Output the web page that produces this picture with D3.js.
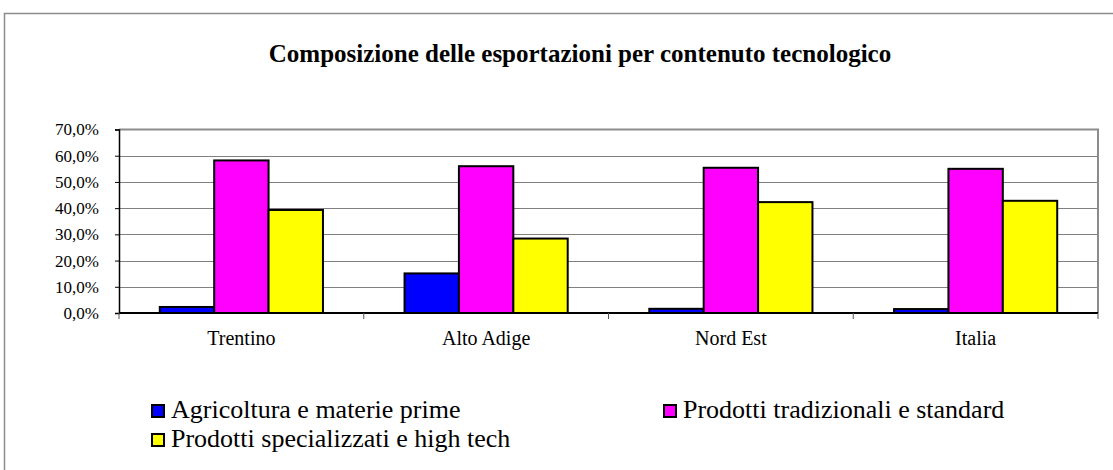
<!DOCTYPE html>
<html>
<head>
<meta charset="utf-8">
<script src="https://cdn.jsdelivr.net/npm/d3@7"></script>
<style>
  body { margin: 0; background: #fff; }
  text { font-family: "Liberation Serif", "Times New Roman", serif; fill: #000; }
</style>
</head>
<body>
<div id="chart"></div>
<script>

    var regions = ["Trentino", "Alto Adige", "Nord Est", "Italia"];
    var seriesNames = ["Agricoltura e materie prime", "Prodotti tradizionali e standard", "Prodotti specializzati e high tech"];
    var agricoltura = [2.3, 15.1, 1.6, 1.5];
    var tradizionali = [58.2, 56.0, 55.4, 55.0];
    var specializzati = [39.3, 28.4, 42.3, 42.8];
    var seriesColors = ["#0000ff", "#ff00ff", "#ffff00"];
    var yTicks = [0, 10, 20, 30, 40, 50, 60, 70];

    var width = 1113, height = 470;

    var svg = d3.select("#chart")
      .append("svg")
      .attr("width", width)
      .attr("height", height);

    // outer frame of the chart object
    svg.append("path")
      .attr("d", "M4.5," + height + "V13.5H" + width)
      .attr("fill", "none")
      .attr("stroke", "#8c8c8c")
      .attr("stroke-width", 1.5);

    svg.append("text")
      .attr("x", 580)
      .attr("y", 62)
      .attr("text-anchor", "middle")
      .attr("font-weight", "bold")
      .attr("font-size", 25)
      .text("Composizione delle esportazioni per contenuto tecnologico");

    //=========================================================================
    // scales
    //=========================================================================
    var plot = { left: 119, right: 1098, top: 129.5, bottom: 313 };

    var x = d3.scaleBand()
      .domain(regions)
      .range([plot.left, plot.right]);

    var xInner = d3.scaleBand()
      .domain(d3.range(seriesNames.length))
      .range([0, x.bandwidth()])
      .paddingOuter(0.75)
      .paddingInner(0);

    var y = d3.scaleLinear()
      .domain([0, 70])
      .range([plot.bottom, plot.top]);

    // gridlines
    svg.append("g")
      .selectAll("line")
      .data(yTicks.slice(1, -1))
      .enter()
      .append("line")
      .attr("x1", plot.left)
      .attr("x2", plot.right)
      .attr("y1", function(d) { return Math.round(y(d)) + 0.5; })
      .attr("y2", function(d) { return Math.round(y(d)) + 0.5; })
      .attr("stroke", "#808080")
      .attr("stroke-width", 1);

    // plot area top / right border
    svg.append("path")
      .attr("d", "M" + plot.left + "," + plot.top + "H" + plot.right + "V" + plot.bottom)
      .attr("fill", "none")
      .attr("stroke", "#8c8c8c")
      .attr("stroke-width", 2);

    //=========================================================================
    // bars
    //=========================================================================
    var series = [agricoltura, tradizionali, specializzati];

    series.forEach(function(values, s) {
      svg.append("g")
        .selectAll("rect")
        .data(values)
        .enter()
        .append("rect")
        .attr("x", function(d, i) { return x(regions[i]) + xInner(s); })
        .attr("width", xInner.bandwidth())
        .attr("y", function(d) { return y(d); })
        .attr("height", function(d) { return y(0) - y(d); })
        .attr("fill", seriesColors[s])
        .attr("stroke", "#000")
        .attr("stroke-width", 2);
    });

    //=========================================================================
    // axes
    //=========================================================================
    var yAxis = svg.append("g")
      .attr("transform", "translate(" + plot.left + ",0)")
      .call(d3.axisLeft(y)
        .tickValues(yTicks)
        .tickSize(4)
        .tickPadding(16)
        .tickFormat(function(d) { return d3.format(".1f")(d).replace(".", ",") + "%"; }));
    yAxis.select(".domain").attr("stroke", "#000").attr("stroke-width", 1.5);
    yAxis.selectAll(".tick line").attr("stroke", "#000");
    yAxis.selectAll(".tick text")
      .attr("font-family", "Liberation Serif")
      .attr("font-size", 17)
      .attr("dy", "0.32em");

    var xAxis = svg.append("g")
      .attr("transform", "translate(0," + plot.bottom + ")");
    xAxis.append("line")
      .attr("x1", plot.left)
      .attr("x2", plot.right)
      .attr("stroke", "#000")
      .attr("stroke-width", 2);
    xAxis.selectAll(".sep")
      .data(regions.concat([null]))
      .enter()
      .append("line")
      .attr("x1", function(d, i) { return plot.left + i * x.step(); })
      .attr("x2", function(d, i) { return plot.left + i * x.step(); })
      .attr("y1", 0)
      .attr("y2", 6)
      .attr("stroke", "#555");
    xAxis.selectAll(".lab")
      .data(regions)
      .enter()
      .append("text")
      .attr("x", function(d) { return x(d) + x.bandwidth() / 2; })
      .attr("y", 32)
      .attr("text-anchor", "middle")
      .attr("font-size", 20)
      .text(function(d) { return d; });

    //=========================================================================
    // legend
    //=========================================================================
    var legendPos = [[151, 418], [663, 418], [151, 447]];

    var legend = svg.append("g")
      .selectAll("g")
      .data(seriesNames)
      .enter()
      .append("g")
      .attr("transform", function(d, i) { return "translate(" + legendPos[i][0] + "," + legendPos[i][1] + ")"; });

    legend.append("rect")
      .attr("x", 1)
      .attr("y", -13)
      .attr("width", 12)
      .attr("height", 12)
      .attr("fill", function(d, i) { return seriesColors[i]; })
      .attr("stroke", "#000")
      .attr("stroke-width", 2);

    legend.append("text")
      .attr("x", 20)
      .attr("y", 0)
      .attr("font-size", 26)
      .text(function(d) { return d; });

</script>
</body>
</html>
